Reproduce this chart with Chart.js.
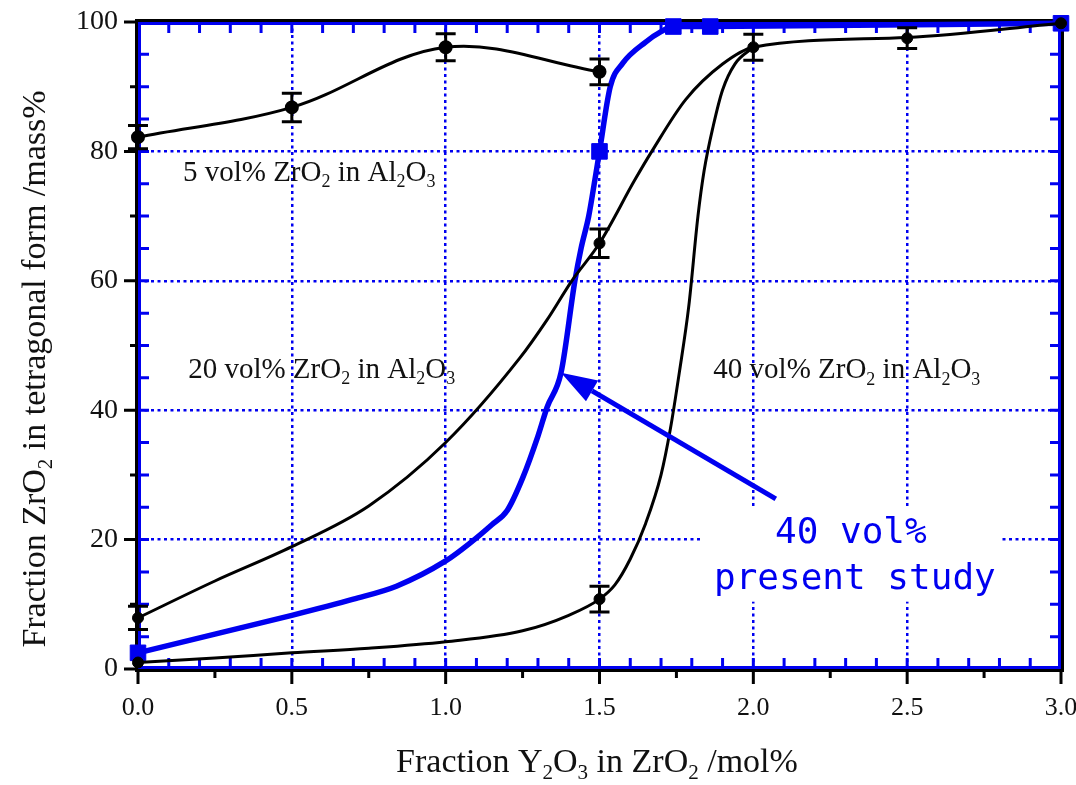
<!DOCTYPE html>
<html>
<head>
<meta charset="utf-8">
<script src="https://cdn.jsdelivr.net/npm/chart.js@4.4.0/dist/chart.umd.min.js"></script>
<style>
  html, body { margin: 0; padding: 0; background: #fff; }
  #wrap { width: 1076px; height: 785px; }
</style>
</head>
<body>
<div id="wrap"><canvas id="chart"></canvas></div>
<script>
// tick labels
const xTickValues = [0, 0.5, 1.0, 1.5, 2.0, 2.5, 3.0];
const xTickLabels = ['0.0', '0.5', '1.0', '1.5', '2.0', '2.5', '3.0'];
const yTickValues = [0, 20, 40, 60, 80, 100];
const yTickLabels = ['0', '20', '40', '60', '80', '100'];

// 5 vol% ZrO2 in Al2O3 (measured points + error)
const pts5X = [0, 0.5, 1.0, 1.5];
const pts5Y = [82.2, 86.8, 96.1, 92.3];
const pts5Err = [1.8, 2.2, 2.1, 2.0];

// 20 vol% ZrO2 in Al2O3
const curve20X = [0, 0.25, 0.5, 0.75, 1.0, 1.24, 1.33, 1.41, 1.5, 1.615, 1.67, 1.78, 1.9, 2.0, 2.5, 3.0];
const curve20Y = [7.9, 13.6, 18.9, 25.2, 35, 48, 54, 60, 65.8, 75.6, 80, 88, 93.5, 96.1, 97.6, 99.8];
const pts20X = [0, 1.5, 2.0, 2.5, 3.0];
const pts20Y = [7.9, 65.8, 96.1, 97.5, 99.8];
const pts20Err = [1.8, 2.2, 2.0, 1.6, 0];

// 40 vol% ZrO2 in Al2O3
const curve40X = [0, 0.25, 0.5, 0.75, 1.0, 1.25, 1.4, 1.5, 1.55, 1.6, 1.65, 1.7, 1.73, 1.76, 1.79, 1.82, 1.84, 1.87, 1.9, 1.94, 2.0];
const curve40Y = [1, 1.7, 2.5, 3.2, 4.2, 5.9, 8.3, 10.8, 13, 17, 22.5, 30, 37, 46, 56, 70, 77, 84, 89.5, 93.5, 96.1];
const pts40X = [0, 1.5];
const pts40Y = [1, 10.8];
const pts40Err = [0, 2.0];

// 40 vol% present study
const studyX = [0, 0.25, 0.5, 0.7, 0.84, 1.0, 1.08, 1.15, 1.2, 1.25, 1.3, 1.33, 1.375, 1.42, 1.44, 1.465, 1.485, 1.5, 1.535, 1.575, 1.65, 1.70, 1.74, 1.86, 3.0];
const studyY = [2.5, 5.4, 8.3, 10.8, 12.8, 16.7, 19.5, 22.3, 24.5, 29.5, 36, 40.5, 45.8, 60, 65, 70, 75.6, 80, 90, 93.6, 96.9, 98.5, 99.3, 99.3, 99.8];
const studyPtsX = [0, 1.5, 1.74, 1.86, 3.0];
const studyPtsY = [2.5, 80, 99.3, 99.3, 99.8];

const BLUE = '#0000f0';
const SERIF = "'Liberation Serif', 'Times New Roman', serif";

function pairs(xs, ys) {
    return xs.map((v, i) => ({x: v, y: ys[i]}));
}

// text pieces, 1 = subscript
const label5 = [['5 vol% ZrO', 0], ['2', 1], [' in Al', 0], ['2', 1], ['O', 0], ['3', 1]];
const label20 = [['20 vol% ZrO', 0], ['2', 1], [' in Al', 0], ['2', 1], ['O', 0], ['3', 1]];
const label40 = [['40 vol% ZrO', 0], ['2', 1], [' in Al', 0], ['2', 1], ['O', 0], ['3', 1]];
const xTitle = [['Fraction Y', 0], ['2', 1], ['O', 0], ['3', 1], [' in ZrO', 0], ['2', 1], [' /mol%', 0]];
const yTitle = [['Fraction ZrO', 0], ['2', 1], [' in tetragonal form /mass%', 0]];

function richText(ctx, parts, x, y, size, align) {
    let w = 0;
    parts.forEach(p => {
        ctx.font = (p[1] ? size * 0.62 : size) + 'px ' + SERIF;
        w += ctx.measureText(p[0]).width;
    });
    let cx = align === 'center' ? x - w / 2 : x;
    ctx.textAlign = 'left';
    ctx.textBaseline = 'alphabetic';
    parts.forEach(p => {
        ctx.font = (p[1] ? size * 0.62 : size) + 'px ' + SERIF;
        ctx.fillText(p[0], cx, p[1] ? y + size * 0.22 : y);
        cx += ctx.measureText(p[0]).width;
    });
}

const framePlugin = {
    id: 'frame',
    beforeDatasetsDraw(chart) {
        const {ctx, chartArea: a, scales: {x, y}} = chart;
        ctx.save();
        ctx.lineCap = 'butt';
        // blue minor ticks, inside
        ctx.strokeStyle = BLUE;
        ctx.lineWidth = 3;
        ctx.beginPath();
        for (let i = 1; i < 30; i++) {
            const px = x.getPixelForValue(i / 10);
            ctx.moveTo(px, a.bottom); ctx.lineTo(px, a.bottom - 11);
            ctx.moveTo(px, a.top); ctx.lineTo(px, a.top + 11);
        }
        for (let v = 5; v < 100; v += 5) {
            const py = y.getPixelForValue(v);
            ctx.moveTo(a.left, py); ctx.lineTo(a.left + 11, py);
            ctx.moveTo(a.right, py); ctx.lineTo(a.right - 11, py);
        }
        ctx.stroke();
        ctx.strokeRect(a.left + 1.5, a.top + 1.5, a.width - 3, a.height - 3);
        // black outer frame and outside ticks
        ctx.strokeStyle = '#000';
        ctx.strokeRect(a.left - 1.5, a.top - 1.5, a.width + 3, a.height + 3);
        ctx.beginPath();
        for (let i = 0; i <= 12; i++) {
            const px = x.getPixelForValue(i / 4);
            ctx.moveTo(px, a.bottom);
            ctx.lineTo(px, a.bottom + (i % 2 === 0 ? 15 : 9));
        }
        for (let v = 0; v <= 100; v += 10) {
            const py = y.getPixelForValue(v);
            ctx.moveTo(a.left, py);
            ctx.lineTo(a.left - (v % 20 === 0 ? 14 : 8), py);
        }
        ctx.stroke();
        ctx.restore();
    }
};

function drawErrors(ctx, x, y, xs, ys, es) {
    ctx.beginPath();
    xs.forEach((v, i) => {
        if (!es[i]) return;
        const px = x.getPixelForValue(v);
        const top = y.getPixelForValue(ys[i] + es[i]);
        const bot = y.getPixelForValue(ys[i] - es[i]);
        ctx.moveTo(px, top); ctx.lineTo(px, bot);
        ctx.moveTo(px - 10, top); ctx.lineTo(px + 10, top);
        ctx.moveTo(px - 10, bot); ctx.lineTo(px + 10, bot);
    });
    ctx.stroke();
}

const notesPlugin = {
    id: 'notes',
    afterDatasetsDraw(chart) {
        const {ctx, scales: {x, y}} = chart;
        ctx.save();
        ctx.strokeStyle = '#000';
        ctx.lineWidth = 3;
        drawErrors(ctx, x, y, pts5X, pts5Y, pts5Err);
        drawErrors(ctx, x, y, pts20X, pts20Y, pts20Err);
        drawErrors(ctx, x, y, pts40X, pts40Y, pts40Err);

        // curve labels
        ctx.fillStyle = '#111';
        richText(ctx, label5, x.getPixelForValue(0.146), y.getPixelForValue(75.5), 29, 'left');
        richText(ctx, label20, x.getPixelForValue(0.163), y.getPixelForValue(45), 29, 'left');
        richText(ctx, label40, x.getPixelForValue(1.87), y.getPixelForValue(44.9), 29, 'left');

        // white box + blue note
        const bx0 = x.getPixelForValue(1.833), bx1 = x.getPixelForValue(2.808);
        const by0 = y.getPixelForValue(25.1), by1 = y.getPixelForValue(10.4);
        ctx.fillStyle = '#fff';
        ctx.fillRect(bx0, by0, bx1 - bx0, by1 - by0);
        ctx.fillStyle = BLUE;
        ctx.font = "36px 'DejaVu Sans Mono', monospace";
        ctx.textAlign = 'center';
        ctx.textBaseline = 'alphabetic';
        ctx.fillText('40 vol%', x.getPixelForValue(2.317), y.getPixelForValue(19.4));
        ctx.fillText('present study', x.getPixelForValue(2.33), y.getPixelForValue(12.4));

        // arrow
        const tx = x.getPixelForValue(1.375), ty = y.getPixelForValue(45.8);
        const fx = x.getPixelForValue(2.073), fy = y.getPixelForValue(26.3);
        const ang = Math.atan2(ty - fy, tx - fx);
        const hl = 36, hw = 12;
        const bxp = tx - hl * Math.cos(ang), byp = ty - hl * Math.sin(ang);
        ctx.strokeStyle = BLUE;
        ctx.lineWidth = 5;
        ctx.beginPath();
        ctx.moveTo(fx, fy); ctx.lineTo(bxp, byp);
        ctx.stroke();
        ctx.beginPath();
        ctx.moveTo(tx, ty);
        ctx.lineTo(bxp + hw * Math.sin(ang), byp - hw * Math.cos(ang));
        ctx.lineTo(bxp - hw * Math.sin(ang), byp + hw * Math.cos(ang));
        ctx.closePath();
        ctx.fill();

        // axis titles
        ctx.fillStyle = '#111';
        richText(ctx, xTitle, 597, 772, 34, 'center');
        ctx.translate(45, 369);
        ctx.rotate(-Math.PI / 2);
        richText(ctx, yTitle, 0, 0, 34, 'center');
        ctx.restore();
    }
};

const blackLine = {
    borderColor: '#000', backgroundColor: '#000', borderWidth: 3,
    pointRadius: 0, cubicInterpolationMode: 'monotone', clip: false
};
const blackPts = {
    borderColor: '#000', backgroundColor: '#000', showLine: false,
    pointRadius: 5.5, pointStyle: 'circle', clip: false
};

new Chart(document.getElementById('chart'), {
    type: 'line',
    data: {
        datasets: [
            {label: '5 vol% curve', data: pairs(pts5X, pts5Y), borderColor: '#000', backgroundColor: '#000',
             borderWidth: 3, pointRadius: 5.5, tension: 0.35, clip: false},
            Object.assign({label: '20 vol% curve', data: pairs(curve20X, curve20Y)}, blackLine),
            Object.assign({label: '20 vol% points', data: pairs(pts20X, pts20Y)}, blackPts),
            Object.assign({label: '40 vol% curve', data: pairs(curve40X, curve40Y)}, blackLine),
            Object.assign({label: '40 vol% points', data: pairs(pts40X, pts40Y)}, blackPts),
            {label: 'present study', data: pairs(studyX, studyY), borderColor: BLUE, backgroundColor: BLUE,
             borderWidth: 5.5, pointRadius: 0, cubicInterpolationMode: 'monotone', clip: false},
            {label: 'present study points', data: pairs(studyPtsX, studyPtsY), borderColor: BLUE,
             backgroundColor: BLUE, showLine: false, pointStyle: 'rect', pointRadius: 11, clip: false}
        ]
    },
    options: {
        responsive: true,
        maintainAspectRatio: false,
        animation: false,
        devicePixelRatio: 1,
        layout: {padding: {left: 0, right: 15, top: 22, bottom: 0}},
        plugins: {legend: {display: false}, tooltip: {enabled: false}},
        scales: {
            x: {
                type: 'linear', min: 0, max: 3,
                afterBuildTicks: s => { s.ticks = xTickValues.map(v => ({value: v})); },
                afterFit: s => { s.height = 116; s.paddingLeft = 0; s.paddingRight = 0; },
                ticks: {
                    callback: (v) => xTickLabels[xTickValues.indexOf(v)],
                    font: {family: SERIF, size: 26}, color: '#111', padding: 24,
                    maxRotation: 0, autoSkip: false
                },
                grid: {color: BLUE, lineWidth: 2.5, drawTicks: false},
                border: {display: false, dash: [3, 3.5]}
            },
            y: {
                type: 'linear', min: 0, max: 100,
                afterBuildTicks: s => { s.ticks = yTickValues.map(v => ({value: v})); },
                afterFit: s => { s.width = 138; s.paddingTop = 0; s.paddingBottom = 0; },
                ticks: {
                    callback: (v) => yTickLabels[yTickValues.indexOf(v)],
                    font: {family: SERIF, size: 28}, color: '#111', padding: 20
                },
                grid: {color: BLUE, lineWidth: 2.5, drawTicks: false},
                border: {display: false, dash: [3, 3.5]}
            }
        }
    },
    plugins: [framePlugin, notesPlugin]
});
</script>
</body>
</html>
